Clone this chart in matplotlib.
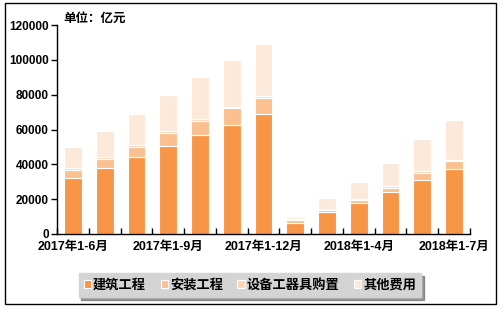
import matplotlib
matplotlib.use('Agg')
import matplotlib.pyplot as plt
from matplotlib.patches import Rectangle
import numpy as np

plt.rcParams['font.family'] = ['Liberation Sans', 'Noto Sans CJK SC']
plt.rcParams['font.weight'] = 'bold'

# 13 periods, only every third one labelled on the axis
periods = ['2017年1-6月', '2017年1-7月', '2017年1-8月', '2017年1-9月', '2017年1-10月',
           '2017年1-11月', '2017年1-12月', '2018年1-2月', '2018年1-3月', '2018年1-4月',
           '2018年1-5月', '2018年1-6月', '2018年1-7月']
shown_labels = ['2017年1-6月', '2017年1-9月', '2017年1-12月', '2018年1-4月', '2018年1-7月']

# 亿元
building = [32300, 38100, 44000, 50700, 57000, 62800, 68700, 6500, 12600, 17600, 23900, 30800, 37100]
install = [4400, 5000, 6100, 7500, 7900, 9400, 9500, 1400, 1200, 1900, 2700, 4400, 4600]
equipment = [1000, 1300, 1100, 1200, 1100, 900, 1100, 600, 600, 800, 900, 900, 1000]
other = [12400, 14900, 17600, 20400, 24100, 26800, 29700, 1400, 6500, 9600, 13200, 18400, 22800]

series_names = ['建筑工程', '安装工程', '设备工器具购置', '其他费用']
series_colors = ['#F79646', '#FAC090', '#FCD5B5', '#FDE9D9']

fig = plt.figure(figsize=(5.04, 3.11), dpi=100)
ax = fig.add_axes([0.1131, 0.2476, 0.8194, 0.672])

x = np.arange(len(periods))
bottom = np.zeros(len(periods))
for vals, name, col in zip([building, install, equipment, other], series_names, series_colors):
    ax.bar(x, vals, width=0.56, bottom=bottom, color=col, edgecolor='white',
           linewidth=0.8, label=name)
    bottom += np.array(vals)

ax.set_xlim(-0.5, len(periods) - 0.5)
ax.set_ylim(0, 120000)
ax.set_yticks(np.arange(0, 120001, 20000))
ax.tick_params(axis='y', direction='out', length=4, width=1, labelsize=8.5, pad=2)

# labels at selected periods, boundary ticks between bars
label_pos = [periods.index(p) for p in shown_labels]
ax.set_xticks(label_pos)
ax.set_xticklabels(shown_labels, fontsize=9, fontweight='bold')
ax.set_xticks(np.arange(-0.5, len(periods), 1.0), minor=True)
ax.tick_params(axis='x', which='major', length=0, pad=5)
ax.tick_params(axis='x', which='minor', direction='in', length=4, width=1)

for s in ['top', 'right']:
    ax.spines[s].set_visible(False)
for s in ['left', 'bottom']:
    ax.spines[s].set_linewidth(1)
    ax.spines[s].set_color('black')

fig.text(0.125, 0.939, '单位：亿元', fontsize=9, fontweight='bold', va='center', ha='left')

leg = fig.legend(loc='center', bbox_to_anchor=(0.496, 0.0836), ncol=4, frameon=True,
                 fancybox=False, shadow=True, handlelength=0.55,
                 handleheight=0.55, handletextpad=0.15, columnspacing=1.1,
                 borderpad=0.4, prop={'weight': 'bold', 'size': 9.5})
leg.get_frame().set_facecolor('#D4D4D4')
leg.get_frame().set_edgecolor('#D4D4D4')
leg.get_frame().set_alpha(1)

fig.patches.append(Rectangle((5 / 504, 7 / 311), 491 / 504, 301 / 311, transform=fig.transFigure,
                             fill=False, edgecolor='black', linewidth=1))

fig.savefig('out.png', dpi=100)
